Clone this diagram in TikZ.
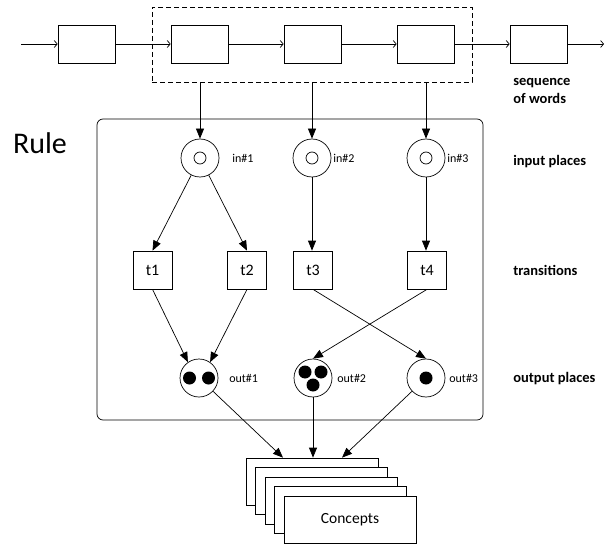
\documentclass[tikz,border=0pt]{standalone}
\usepackage{fontspec}
\setmainfont{Carlito}
\usetikzlibrary{arrows.meta,calc}
\begin{document}
\begin{tikzpicture}[x=1pt,y=-1pt,
  line width=0.7pt,
  word/.style={draw,minimum width=57pt,minimum height=38pt,inner sep=0pt},
  seqarrow/.style={-{Straight Barb[length=3pt,width=7pt]}},
  arr/.style={-{Triangle[length=10pt,width=8pt]}},
  place/.style={draw,circle,minimum size=38pt,inner sep=0pt},
  trans/.style={draw,minimum width=39pt,minimum height=38pt,inner sep=0pt,font=\fontsize{16}{19}\selectfont},
  tok/.style={fill=black,circle,minimum size=13pt,inner sep=0pt},
  lbl/.style={anchor=west,inner sep=0pt,font=\fontsize{12}{14}\selectfont},
  side/.style={anchor=west,inner sep=0pt,align=left,font=\fontsize{14.5}{18}\selectfont\bfseries},
  card/.style={draw,fill=white,minimum width=132pt,minimum height=47pt,inner sep=0pt}]
\useasboundingbox (0,0) rectangle (612,545);

% sequence of words
\coordinate (s0) at (21,44);
\node[word] (w1) at (86.5,44) {};
\node[word] (w2) at (199.5,44) {};
\node[word] (w3) at (312.5,44) {};
\node[word] (w4) at (425.5,44) {};
\node[word] (w5) at (538.5,44) {};
\coordinate (s6) at (604,44);
\draw[seqarrow] (s0) -- (w1);
\draw[seqarrow] (w1) -- (w2);
\draw[seqarrow] (w2) -- (w3);
\draw[seqarrow] (w3) -- (w4);
\draw[seqarrow] (w4) -- (w5);
\draw[seqarrow] (w5) -- (s6);
\node[draw,dashed,dash pattern=on 5pt off 3pt,minimum width=320pt,minimum height=75pt,inner sep=0pt] (win) at (312,44.5) {};
\node[side] (lseq) at (513,91) {sequence\\of words};

% rule box
\node[draw,rounded corners=6pt,minimum width=386pt,minimum height=301pt,inner sep=0pt] (rule) at (290,269.5) {};
\node[anchor=center,inner sep=0pt,font=\fontsize{30}{34}\selectfont] (rlbl) at (40,143) {Rule};

% input places
\node[place] (in1) at (200,158) {};
\node[place] (in2) at (312,158) {};
\node[place] (in3) at (426,158) {};
\foreach \n in {in1,in2,in3} \node[draw,circle,minimum size=12pt,inner sep=0pt] (\n c) at (\n) {};
\node[lbl] (lin1) at (232,158) {in\#1};
\node[lbl] (lin2) at (333,158) {in\#2};
\node[lbl] (lin3) at (447,158) {in\#3};
\draw[arr] (win.south -| in1) -- (in1);
\draw[arr] (win.south -| in2) -- (in2);
\draw[arr] (win.south -| in3) -- (in3);

% transitions
\node[trans] (t1) at (152.5,270) {t1};
\node[trans] (t2) at (247,270) {t2};
\node[trans] (t3) at (313,270) {t3};
\node[trans] (t4) at (427,270) {t4};
\draw[arr] (in1) -- (t1.north);
\draw[arr] (in1) -- (t2.north);
\draw[arr] (in2) -- (t3.north -| in2);
\draw[arr] (in3) -- (t4.north -| in3);

% output places
\node[place] (o1) at (199,378) {};
\node[place] (o2) at (313,378) {};
\node[place] (o3) at (426,378) {};
\node[tok] (k1) at (189.5,378) {};
\node[tok] (k2) at (208.5,378) {};
\node[tok] (k3) at (305,372) {};
\node[tok] (k4) at (321,372) {};
\node[tok] (k5) at (313,385) {};
\node[tok] (k6) at (426,378) {};
\node[lbl] (lo1) at (229,378) {out\#1};
\node[lbl] (lo2) at (337,378) {out\#2};
\node[lbl] (lo3) at (449,378) {out\#3};
\draw[arr] (t1.south) -- (o1.125);
\draw[arr] (t2.south) -- (o1.55);
\draw[arr] (t3.south) -- (o3.north);
\draw[arr] (t4.south) -- (o2.north);

% side labels
\node[side] (lin) at (513,162) {input places};
\node[side] (ltr) at (513,270) {transitions};
\node[side] (lout) at (513,379) {output places};

% concepts stack
\node[card] (c1) at (312,481.5) {};
\node[card] (c2) at (321.5,491) {};
\node[card] (c3) at (331,500.5) {};
\node[card] (c4) at (340.5,510) {};
\node[card,font=\fontsize{15.5}{18}\selectfont] (c5) at (350,519.5) {Concepts};
\draw[arr] (o1) -- ($(c1.north)+(-29,0)$);
\draw[arr] (o2) -- (c1.north -| o2);
\draw[arr] (o3) -- ($(c1.north)+(30,0)$);
\end{tikzpicture}
\end{document}
